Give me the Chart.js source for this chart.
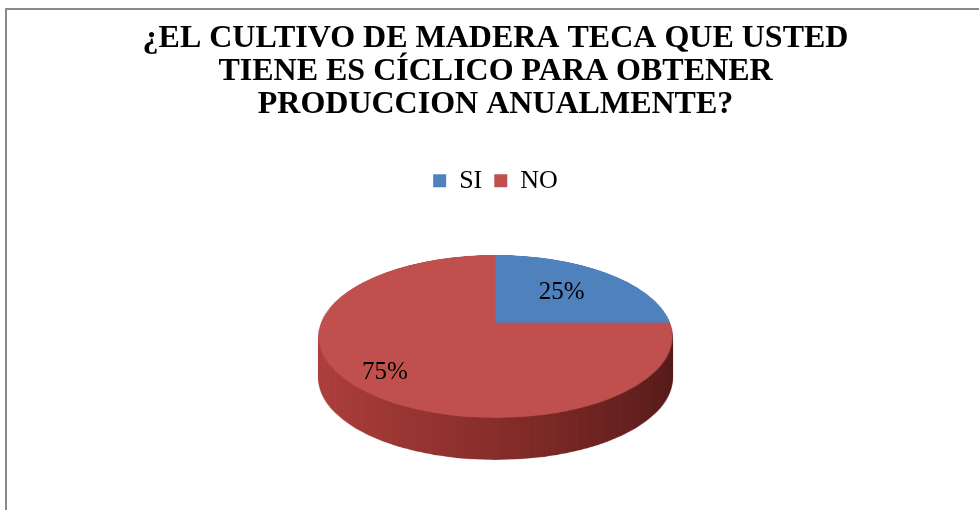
<!DOCTYPE html>
<html>
<head>
<meta charset="utf-8">
<script src="https://cdn.jsdelivr.net/npm/chart.js@4"></script>
<style>
  html, body { margin: 0; padding: 0; background: #fff; }
  canvas { display: block; }
</style>
</head>
<body>
<canvas id="myChart" width="979" height="510"></canvas>
<script>
var categories = ['SI', 'NO'];
var values = [25, 75];
var chartTitle = ['¿EL CULTIVO DE MADERA TECA QUE USTED', 'TIENE ES CÍCLICO PARA OBTENER', 'PRODUCCION ANUALMENTE?'];

var sliceColors = ['#4F81BD', '#C0504D'];
var tilt = 0.4605;  // ry / rx of the top face
var persp = -0.17;  // perspective: the pie centre sits above the ellipse centre
var depth = 42;     // thickness of the side, px

var serif = 'Liberation Serif, Times New Roman, serif';

// disk coords (u, v in -1..1) -> screen, with a simple perspective tilt
function toScreen(cx, cy, rx, ry, u, v) {
  var w = 1 + persp * v;
  return {
    x: cx + rx * u * Math.sqrt(1 - persp * persp) / w,
    y: cy + ry * (v + persp) / w
  };
}

// let chart.js draw the arcs flat on a scratch canvas
function paintArcs(arcs, R, pad, colorsFor) {
  var off = document.createElement('canvas');
  off.width = off.height = 2 * (R + pad);
  var oc = off.getContext('2d');
  oc.translate(R + pad - arcs[0].x, R + pad - arcs[0].y);
  var colors = colorsFor ? colorsFor(oc, arcs[0].x, R) : null;
  arcs.forEach(function (arc, i) {
    var saved = arc.options;
    if (colors) arc.options = Object.assign({}, saved, { backgroundColor: colors[i] });
    arc.draw(oc);
    arc.options = saved;
  });
  return off;
}

// copy the flat disk row by row onto the tilted ellipse
function warp(c, img, R, pad, cx, cy, rx, ry, dy) {
  var k = Math.sqrt(1 - persp * persp);
  var top = Math.floor(cy - ry), bot = Math.ceil(cy + ry);
  for (var y = top; y < bot; y++) {
    var y0 = Math.max((y - cy) / ry, -1);
    var y1 = Math.min((y + 1 - cy) / ry, 1);
    if (y1 <= y0) continue;
    var v0 = (y0 - persp) / (1 - persp * y0);
    var v1 = (y1 - persp) / (1 - persp * y1);
    var s = (rx / R) * k / (1 + persp * (v0 + v1) / 2);
    var sy0 = pad + R + v0 * R, sy1 = pad + R + v1 * R;
    var w = img.width * s;
    c.drawImage(img, 0, sy0, img.width, sy1 - sy0,
      cx - (R + pad) * s, cy + y0 * ry + dy, w, (y1 - y0) * ry);
  }
}

var pie3d = {
  id: 'pie3d',
  beforeDraw: function (chart) {
    var c = chart.ctx;
    c.save();
    c.fillStyle = '#fff';
    c.fillRect(0, 0, chart.width, chart.height);
    // excel chart area border (only top/left visible)
    c.fillStyle = '#898989';
    c.fillRect(5, 8, chart.width - 5, 2);
    c.fillRect(5, 8, 2, chart.height - 8);
    c.restore();
  },
  beforeDatasetsDraw: function (chart) {
    var c = chart.ctx;
    var arcs = chart.getDatasetMeta(0).data;
    var R = arcs[0].outerRadius, pad = 2;
    var cx = arcs[0].x, cy = arcs[0].y, rx = R, ry = R * tilt;

    var topImg = paintArcs(arcs, R, pad, null);
    var sideImg = paintArcs(arcs, R, pad, function (oc, x0, r) {
      var red = oc.createLinearGradient(x0 - r, 0, x0 + r, 0);
      red.addColorStop(0, '#b0423f');
      red.addColorStop(0.45, '#8c302d');
      red.addColorStop(1, '#561c1b');
      var blue = oc.createLinearGradient(x0 - r, 0, x0 + r, 0);
      blue.addColorStop(0, '#3d6594');
      blue.addColorStop(1, '#243d5c');
      return [blue, red];
    });

    c.save();
    for (var d = depth; d >= 1; d--) {
      warp(c, sideImg, R, pad, cx, cy, rx, ry, d);
    }
    warp(c, topImg, R, pad, cx, cy, rx, ry, 0);
    c.restore();
    return false;
  },
  afterDraw: function (chart) {
    var c = chart.ctx;
    var arcs = chart.getDatasetMeta(0).data;
    var total = values.reduce(function (a, b) { return a + b; }, 0);
    c.save();
    c.fillStyle = '#000';
    c.font = '25px ' + serif;
    c.textAlign = 'center';
    c.textBaseline = 'middle';
    arcs.forEach(function (arc, i) {
      var share = values[i] / total;
      var mid = (arc.startAngle + arc.endAngle) / 2;
      var f = 0.456 + 0.472 * share;   // bigger slices push the label outward
      var p = toScreen(arc.x, arc.y, arc.outerRadius, arc.outerRadius * tilt,
        Math.cos(mid) * f, Math.sin(mid) * f);
      c.fillText(Math.round(share * 100) + '%', p.x, p.y);
    });
    c.restore();
  }
};

var options = {
  type: 'pie',
  data: {
    labels: categories,
    datasets: [
      {
        data: values,
        backgroundColor: sliceColors,
        borderWidth: 0,
        radius: 177,
        clip: false
      }
    ]
  },
  options: {
    responsive: false,
    animation: false,
    layout: {
      padding: { left: 12, right: 0, top: 0, bottom: 41 }
    },
    plugins: {
      title: {
        display: true,
        text: chartTitle,
        color: '#000',
        font: { family: serif, size: 32, weight: 'bold', lineHeight: 1.04 },
        padding: { top: 22, bottom: 34 }
      },
      legend: {
        position: 'top',
        labels: {
          color: '#000',
          font: { family: serif, size: 26 },
          boxWidth: 13,
          boxHeight: 13,
          padding: 12
        }
      },
      tooltip: { enabled: false }
    }
  },
  plugins: [pie3d]
};

var ctx = document.getElementById('myChart').getContext('2d');
new Chart(ctx, options);
</script>
</body>
</html>
